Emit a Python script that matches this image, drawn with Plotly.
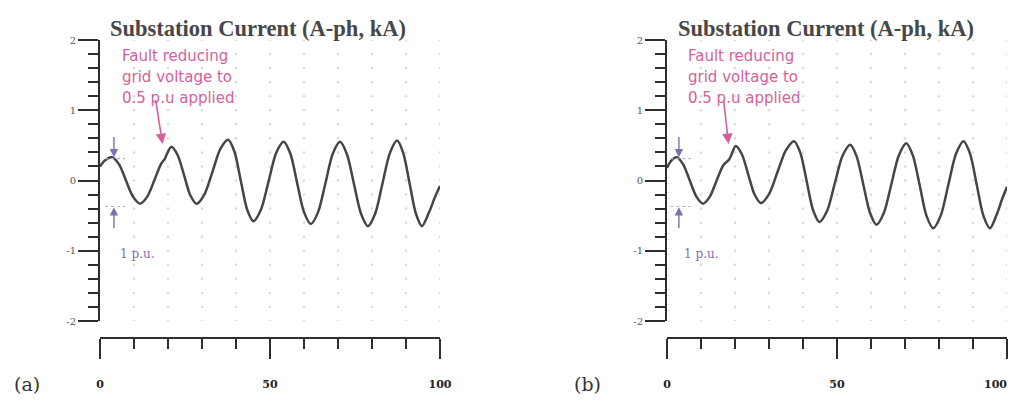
import plotly.graph_objects as go
import numpy as np

# ---------------- data ----------------
time_a = [0, 1.5, 3.5, 5.6, 7.65, 9.7, 11.8, 13.9, 15.95, 18.0, 19.1, 19.6, 21.0,
          22.85, 24.7, 26.55, 28.4, 30.7, 33.05, 35.4, 37.7, 39.55, 41.4, 43.25, 45.1,
          47.3, 49.55, 51.8, 54.0, 56.0, 58.0, 60.0, 62.0, 64.15, 66.3, 68.45, 70.6,
          72.65, 74.7, 76.75, 78.8, 80.95, 83.1, 85.25, 87.4, 89.2, 91.05, 92.9, 94.7,
          96.8, 98.5, 100]
current_a = [0.20, 0.29, 0.33, 0.23, 0.0, -0.23, -0.33, -0.23, 0.0, 0.24, 0.31, 0.37, 0.48,
             0.36, 0.08, -0.21, -0.33, -0.20, 0.12, 0.45, 0.58, 0.41, 0.0, -0.41, -0.58,
             -0.42, -0.02, 0.39, 0.55, 0.38, -0.04, -0.45, -0.62, -0.45, -0.04, 0.38, 0.55,
             0.37, -0.05, -0.47, -0.65, -0.47, -0.04, 0.39, 0.57, 0.39, -0.04, -0.47, -0.65,
             -0.45, -0.24, -0.08]

time_b = [0, 1.2, 2.8, 4.75, 6.7, 8.65, 10.6, 12.6, 14.6, 16.6, 18.3, 18.9, 20.2,
          22.05, 23.9, 25.75, 27.6, 30.05, 32.5, 34.95, 37.4, 39.25, 41.1, 42.95, 44.8,
          47.1, 49.35, 51.6, 53.9, 55.8, 57.75, 59.7, 61.6, 63.8, 66.0, 68.2, 70.4,
          72.35, 74.35, 76.3, 78.3, 80.5, 82.75, 85.0, 87.2, 89.15, 91.1, 93.05, 95.0,
          97.0, 98.6, 100]
current_b = [0.18, 0.28, 0.33, 0.23, 0.0, -0.23, -0.33, -0.23, 0.0, 0.22, 0.30, 0.36, 0.49,
             0.37, 0.085, -0.20, -0.32, -0.19, 0.12, 0.43, 0.56, 0.39, -0.015, -0.42, -0.59,
             -0.43, -0.04, 0.35, 0.51, 0.34, -0.06, -0.46, -0.63, -0.46, -0.05, 0.36, 0.53,
             0.35, -0.075, -0.50, -0.68, -0.50, -0.06, 0.38, 0.56, 0.38, -0.06, -0.50, -0.68,
             -0.48, -0.26, -0.09]

y_ticks = [-2, -1, 0, 1, 2]
y_tick_labels = ["-2", "-1", "0", "1", "2"]
x_ticks = [0, 50, 100]
x_tick_labels = ["0", "50", "100"]
title_text = "Substation Current (A-ph, kA)"
fault_lines = ["Fault reducing", "grid voltage to", "0.5 p.u applied"]
pu_label = "1 p.u."
panel_labels = ["(a)", "(b)"]

# ---------------- layout helpers ----------------
# the page body has an 8px margin, so the figure starts at (8, 8) in the window
OFF = 8
W, H = 1008, 393
def px(x):
    return (x - OFF) / W
def py(y):
    return (H - (y - OFF)) / H

LINE = "#454545"
AX = "#2e2e2e"
PINK = "#d65f9c"
PURPLE = "#7f70b2"
LILAC = "#b9aad8"
XTICK_FONT = dict(family="DejaVu Serif", size=11, color="#222")

fig = go.Figure()

grid_x = np.arange(10, 101, 10)
grid_y = np.round(np.arange(-2, 2.0001, 0.2), 2)
gx, gy = np.meshgrid(grid_x, grid_y)

bold_labels = ["<b>" + t + "</b>" for t in x_tick_labels]
# panel (b): the last label is pushed left of its tick by the page edge,
# so it is written as an annotation instead of an axis label
bold_labels_b = bold_labels[:-1] + [""]

panels = [
    dict(t=time_a, c=current_a, xa="x", ya="y", xdom=[px(100), px(440)], labels=bold_labels),
    dict(t=time_b, c=current_b, xa="x2", ya="y2", xdom=[px(667), px(1007)], labels=bold_labels_b),
]
ydom = [py(321), py(40)]

for p in panels:
    fig.add_trace(go.Scatter(x=gx.ravel(), y=gy.ravel(), mode="markers",
                             marker=dict(size=2.5, color="#d9d9d9"),
                             xaxis=p["xa"], yaxis=p["ya"], hoverinfo="skip",
                             showlegend=False))
    fig.add_trace(go.Scatter(x=p["t"], y=p["c"], mode="lines",
                             line=dict(color=LINE, width=2.5, shape="spline", smoothing=0.8),
                             xaxis=p["xa"], yaxis=p["ya"], showlegend=False))

xaxis_common = dict(range=[0, 100], showgrid=False, zeroline=False, showline=True,
                    linecolor=AX, linewidth=2, ticks="outside", tickcolor=AX,
                    tickwidth=2, ticklen=20, tickvals=x_ticks,
                    minor=dict(dtick=10, ticks="outside", ticklen=10, tickwidth=2, tickcolor=AX),
                    tickfont=XTICK_FONT,
                    ticklabelstandoff=16, ticklabeloverflow="allow",
                    anchor="free", position=py(338),
                    automargin=False, fixedrange=True)
yaxis_common = dict(range=[-2, 2], domain=ydom, showgrid=False, zeroline=False,
                    showline=True, linecolor=AX, linewidth=2, ticks="outside",
                    tickcolor=AX, tickwidth=2, ticklen=20, tickvals=y_ticks,
                    ticktext=y_tick_labels,
                    minor=dict(dtick=0.2, ticks="outside", ticklen=10, tickwidth=2, tickcolor=AX),
                    tickfont=dict(family="DejaVu Serif", size=10, color="#555"),
                    automargin=False, fixedrange=True)

fig.update_layout(
    width=W, height=H, margin=dict(l=0, r=0, t=0, b=0),
    paper_bgcolor="white", plot_bgcolor="white",
    xaxis=dict(domain=panels[0]["xdom"], ticktext=panels[0]["labels"], **xaxis_common),
    yaxis=dict(anchor="x", **yaxis_common),
    xaxis2=dict(domain=panels[1]["xdom"], ticktext=panels[1]["labels"], **xaxis_common),
    yaxis2=dict(anchor="x2", **yaxis_common),
)

ann = []
shapes = []
specs = [
    dict(xa="x", ya="y", title_x=258, label_x=27, text_x=5.9, arrow_tail=(16.3, 1.17),
         arrow_head=(18.4, 0.52), pu_x=4.1, pu_text_x=5.3, dash=(1.5, 7.4)),
    dict(xa="x2", ya="y2", title_x=826, label_x=587, text_x=5.6, arrow_tail=(16.6, 1.17),
         arrow_head=(18.1, 0.52), pu_x=3.5, pu_text_x=4.5, dash=(1.0, 7.0)),
]
for i, s in enumerate(specs):
    ann.append(dict(text="<b>" + title_text + "</b>", xref="paper", yref="paper",
                    x=px(s["title_x"]), y=py(28), xanchor="center", yanchor="middle",
                    showarrow=False,
                    font=dict(family="Liberation Serif", size=22.5, color="#474747")))
    ann.append(dict(text=panel_labels[i], xref="paper", yref="paper", x=px(s["label_x"]),
                    y=py(384), xanchor="center", yanchor="middle", showarrow=False,
                    font=dict(family="DejaVu Serif", size=19, color="#333")))
    for k, line in enumerate(fault_lines):
        ann.append(dict(text=line, xref=s["xa"], yref="paper", x=s["text_x"],
                        y=py(56 + 21 * k), xanchor="left", yanchor="middle",
                        showarrow=False,
                        font=dict(family="DejaVu Sans", size=15, color=PINK)))
    ann.append(dict(text="", xref=s["xa"], yref=s["ya"], x=s["arrow_head"][0],
                    y=s["arrow_head"][1], ax=s["arrow_tail"][0], ay=s["arrow_tail"][1],
                    axref=s["xa"], ayref=s["ya"], showarrow=True, arrowhead=2,
                    arrowsize=1.3, arrowwidth=1.6, arrowcolor=PINK))
    ann.append(dict(text="", xref=s["xa"], yref=s["ya"], x=s["pu_x"], y=0.33,
                    ax=s["pu_x"], ay=0.64, axref=s["xa"], ayref=s["ya"], showarrow=True,
                    arrowhead=2, arrowsize=1.2, arrowwidth=1.4, arrowcolor=PURPLE))
    ann.append(dict(text="", xref=s["xa"], yref=s["ya"], x=s["pu_x"], y=-0.38,
                    ax=s["pu_x"], ay=-0.70, axref=s["xa"], ayref=s["ya"], showarrow=True,
                    arrowhead=2, arrowsize=1.2, arrowwidth=1.4, arrowcolor=PURPLE))
    ann.append(dict(text=pu_label, xref=s["xa"], yref=s["ya"], x=s["pu_text_x"], y=-1.04,
                    xanchor="left", yanchor="middle", showarrow=False,
                    font=dict(family="DejaVu Serif", size=12, color=PURPLE)))
    for yv in (0.31, -0.37):
        shapes.append(dict(type="line", xref=s["xa"], yref=s["ya"], x0=s["dash"][0],
                           x1=s["dash"][1], y0=yv, y1=yv,
                           line=dict(color=LILAC, width=1.2, dash="dot")))

# last x label of panel (b)
ann.append(dict(text="<b>" + x_tick_labels[-1] + "</b>", xref="x2", yref="paper",
                x=x_ticks[-1], y=py(384), xanchor="right", yanchor="middle",
                xshift=2, showarrow=False, font=XTICK_FONT))

fig.update_layout(annotations=ann, shapes=shapes)
fig.write_html("out.html")
